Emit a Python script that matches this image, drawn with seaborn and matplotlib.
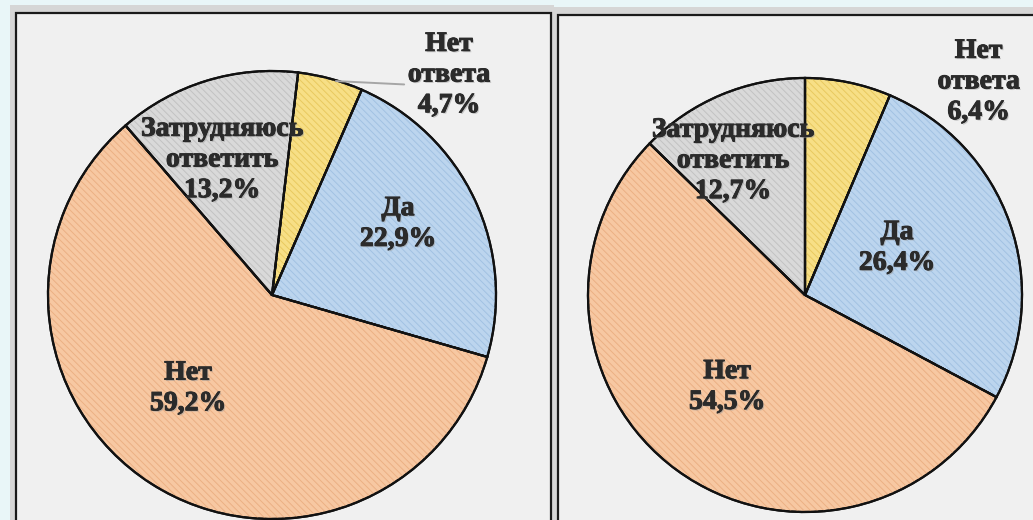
import matplotlib
matplotlib.use("Agg")
import matplotlib.pyplot as plt
import matplotlib.patheffects as pe
from matplotlib.patches import Rectangle
import seaborn as sns

# Survey answers, two samples
categories = ["Нет ответа", "Да", "Нет", "Затрудняюсь ответить"]
values_left = [4.7, 22.9, 59.2, 13.2]
values_right = [6.4, 26.4, 54.5, 12.7]

sns.set_theme(style="white")
plt.rcParams["font.family"] = ["Liberation Serif", "DejaVu Serif"]
plt.rcParams["hatch.linewidth"] = 0.7

fills = ["#f7df86", "#bcd5ee", "#f7c8a2", "#d9d9d9"]
hatch_cols = ["#e8c95f", "#a2c2e2", "#ebb084", "#c2c2c2"]

W, H = 1033, 520
fig = plt.figure(figsize=(W / 100, H / 100), dpi=100)
fig.patch.set_facecolor("#e9f6f8")


def frect(x0, y0, x1, y1):
    """Figure-fraction rectangle from pixel corners (origin top-left)."""
    return (x0 / W, 1 - y1 / H, (x1 - x0) / W, (y1 - y0) / H)


def panel(x0, y0, x1, y1):
    l, b, w, h = frect(x0 - 6, y0 - 8, x1 + 3, y1)
    fig.add_artist(Rectangle((l, b), w, h, transform=fig.transFigure,
                             facecolor="#d6d6d6", edgecolor="none", zorder=-3))
    l, b, w, h = frect(x0, y0, x1, y1)
    fig.add_artist(Rectangle((l, b), w, h, transform=fig.transFigure,
                             facecolor="#f0f0f0", edgecolor="#1a1a1a",
                             linewidth=1.6, zorder=-2))


panel(16, 13, 551, 530)
panel(558, 15, 1045, 530)


def pie_panel(cx, cy, r, values, startangle, label_pos, leader=None):
    ax = fig.add_axes(frect(cx - r, cy - r, cx + r, cy + r))
    ax.set_zorder(1)
    ax.patch.set_visible(False)
    wedges, _ = ax.pie(values, colors=fills, startangle=startangle,
                       counterclock=False,
                       wedgeprops=dict(edgecolor="#111111", linewidth=1.6))
    # fine diagonal texture over each slice
    texture, _ = ax.pie(values, colors=["none"] * len(values),
                        startangle=startangle, counterclock=False,
                        wedgeprops=dict(linewidth=0))
    for t, hc in zip(texture, hatch_cols):
        t.set_hatch("\\\\\\\\\\")
        t.set_edgecolor(hc)
        t.set_linewidth(0)
        t.set_zorder(1.5)
    for w in wedges:
        w.set_clip_on(False)
        w.set_zorder(1)
    # redraw outlines above texture
    outline, _ = ax.pie(values, colors=["none"] * len(values),
                        startangle=startangle, counterclock=False,
                        wedgeprops=dict(edgecolor="#111111", linewidth=1.6))
    for o in outline:
        o.set_zorder(2)
        o.set_clip_on(False)
    ax.set_xlim(-1, 1)
    ax.set_ylim(-1, 1)
    ax.set_aspect("equal")
    ax.axis("off")

    names = ["Нет\nответа", "Да", "Нет", "Затрудняюсь\nответить"]
    for name, v, (x, y) in zip(names, values, label_pos):
        txt = f"{name}\n{v:.1f}%".replace(".", ",")
        ax.text(x, y, txt, ha="center", va="center", fontsize=20,
                fontweight="bold", color="#2b2b2b", linespacing=1.3,
                zorder=5,
                path_effects=[pe.withSimplePatchShadow(offset=(1, -1),
                                                       shadow_rgbFace="#9a9a9a",
                                                       alpha=0.5),
                              pe.withStroke(linewidth=0.7,
                                            foreground="#2b2b2b")])
    if leader is not None:
        (x0, y0), (x1, y1) = leader
        ax.plot([x0, x1], [y0, y1], color="#a6a6a6", linewidth=1.4,
                zorder=4, clip_on=False)
    return ax


pie_panel(272, 295, 224, values_left, 83.3,
          [(0.79, 0.982), (0.5625, 0.317), (-0.375, -0.417), (-0.223, 0.603)],
          leader=((0.285, 0.955), (0.59, 0.94)))
pie_panel(805, 295, 217, values_right, 90,
          [(0.80, 0.982), (0.424, 0.217), (-0.359, -0.424), (-0.332, 0.618)])

fig.savefig("out.png", dpi=100, facecolor=fig.get_facecolor())
